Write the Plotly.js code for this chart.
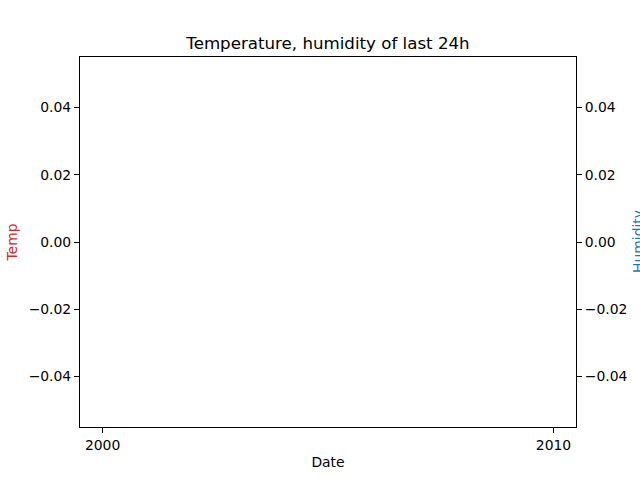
<!DOCTYPE html>
<html>
<head>
<meta charset="utf-8">
<script src="https://cdn.plot.ly/plotly-3.0.1.min.js"></script>
<style>html,body{margin:0;padding:0;background:#fff;}#chart{width:640px;height:480px;}</style>
</head>
<body>
<div id="chart"></div>
<script>
// Data (the reference chart has no data points: both series are empty)
const dates = [];
const temperature = [];
const humidity = [];
const xTickVals = ['2000-01-01', '2010-01-01'];
const xTickText = ['2000', '2010'];
const yTickVals = [-0.04, -0.02, 0.00, 0.02, 0.04];

const font = {family: 'DejaVu Sans, sans-serif', size: 13.9, color: '#000'};

const traces = [
  {x: dates, y: temperature, type: 'scatter', mode: 'lines', name: 'Temp',
   line: {color: '#d62728'}, xaxis: 'x', yaxis: 'y'},
  {x: dates, y: humidity, type: 'scatter', mode: 'lines', name: 'Humidity',
   line: {color: '#1f77b4'}, xaxis: 'x', yaxis: 'y2'}
];

const axisCommon = {
  showgrid: false, zeroline: false, showline: true, linecolor: '#000', linewidth: 1,
  ticks: 'outside', ticklen: 5, tickwidth: 1, tickcolor: '#000', tickfont: font
};

const layout = {
  width: 640, height: 480,
  margin: {l: 80, r: 64, t: 57, b: 53},
  paper_bgcolor: '#fff', plot_bgcolor: '#fff',
  showlegend: false,
  font: font,
  title: {text: 'Temperature, humidity of last 24h', font: {family: font.family, size: 16.67, color: '#000'},
          x: 0.5, xref: 'paper', xanchor: 'center', y: 1 - 43/480, yref: 'container', yanchor: 'middle'},
  xaxis: Object.assign({}, axisCommon, {
    type: 'date', range: ['1999-07-02', '2010-07-02'],
    tickmode: 'array', tickvals: xTickVals, ticktext: xTickText,
    mirror: true,
    title: {text: 'Date', font: font, standoff: 5}
  }),
  yaxis: Object.assign({}, axisCommon, {
    range: [-0.055, 0.055], tickmode: 'array', tickvals: yTickVals, tickformat: '.2f',
    title: {text: 'Temp', font: Object.assign({}, font, {color: '#d62728'}), standoff: 7}
  }),
  yaxis2: Object.assign({}, axisCommon, {
    range: [-0.055, 0.055], tickmode: 'array', tickvals: yTickVals, tickformat: '.2f',
    overlaying: 'y', side: 'right'
  }),
  annotations: [{
    // right axis title, partly outside the figure as in the reference
    text: 'Humidity', textangle: -90, showarrow: false,
    xref: 'paper', yref: 'paper', x: (638 - 80) / 496, y: 0.5,
    xanchor: 'center', yanchor: 'middle',
    font: Object.assign({}, font, {color: '#1f77b4'})
  }]
};

Plotly.newPlot('chart', traces, layout, {displayModeBar: false, staticPlot: true});
</script>
</body>
</html>
